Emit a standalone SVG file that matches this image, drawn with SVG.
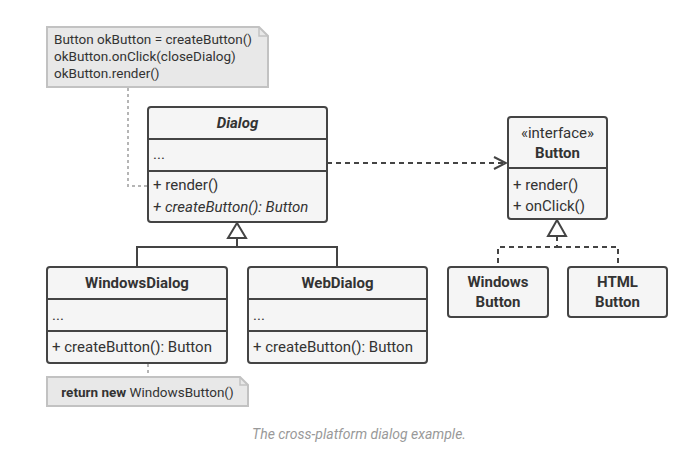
<svg xmlns="http://www.w3.org/2000/svg" width="693" height="474" viewBox="0 0 693 474">
<defs>
<style>
.box{fill:#f5f5f5;stroke:#444;stroke-width:2}
.div{stroke:#444;stroke-width:2;fill:none}
.t{font-family:Roboto,"Liberation Sans",sans-serif;font-size:15px;fill:#333}
.n{font-size:13.5px}
.b{font-weight:bold}
.i{font-style:italic}
.c{text-anchor:middle}
.note{fill:#e8e8e8;stroke:#c2c2c2;stroke-width:2}
.nl{stroke:#b5b5b5;stroke-width:2;stroke-dasharray:3,3;fill:none}
.inh{stroke:#444;stroke-width:2;fill:none}
.dsh{stroke:#444;stroke-width:2;fill:none;stroke-dasharray:5,4}
.tri{fill:#fff;stroke:#444;stroke-width:2}
</style>
<marker id="open" viewBox="0 0 14 14" refX="13" refY="7" markerWidth="14" markerHeight="14" markerUnits="userSpaceOnUse" orient="auto">
<path d="M1,1 L13,7 L1,13" fill="none" stroke="#444" stroke-width="2"/>
</marker>
</defs>
<rect width="693" height="474" fill="#fff"/>
<g id="connectors">
<polyline class="nl" points="128,88 128,186 147,186"/>
<line class="nl" x1="148" y1="364" x2="148" y2="376"/>
<line class="dsh" x1="327" y1="163" x2="506" y2="163" marker-end="url(#open)"/>
<polyline class="inh" points="237,238 237,247 137,247 137,267"/>
<polyline class="inh" points="237,247 337,247 337,267"/>
<polygon class="tri" points="237,223 228,238 246,238"/>
<polyline class="dsh" points="557,236 557,247 498,247 498,266"/>
<polyline class="dsh" points="557,247 618,247 618,266"/>
<polygon class="tri" points="557,220 548,236 566,236"/>
</g>
<g id="note1">
<path class="note" d="M47,27 H259 L268,36 V87 H47 Z"/>
<path d="M259,27 V36 H268" fill="none" stroke="#c2c2c2" stroke-width="1.5"/>
<text class="t n" x="54" y="44">Button okButton = createButton()</text>
<text class="t n" x="54" y="61">okButton.onClick(closeDialog)</text>
<text class="t n" x="54" y="78">okButton.render()</text>
</g>
<g id="dialog">
<rect class="box" x="148" y="107" width="179" height="115" rx="3"/>
<line class="div" x1="148" y1="139" x2="327" y2="139"/>
<line class="div" x1="148" y1="171" x2="327" y2="171"/>
<text class="t b i c" x="237.5" y="128">Dialog</text>
<text class="t" x="153" y="159">...</text>
<text class="t" x="153" y="190">+ render()</text>
<text class="t i" x="153" y="212">+ createButton(): Button</text>
</g>
<g id="button">
<rect class="box" x="508" y="117" width="99" height="102" rx="3"/>
<line class="div" x1="508" y1="168" x2="607" y2="168"/>
<text class="t c" x="557.5" y="138">«interface»</text>
<text class="t b c" x="557.5" y="158">Button</text>
<text class="t" x="513" y="190">+ render()</text>
<text class="t" x="513" y="211">+ onClick()</text>
</g>
<g id="windowsDialog">
<rect class="box" x="47" y="267" width="180" height="96" rx="3"/>
<line class="div" x1="47" y1="299" x2="227" y2="299"/>
<line class="div" x1="47" y1="331" x2="227" y2="331"/>
<text class="t b c" x="137" y="288">WindowsDialog</text>
<text class="t" x="52" y="320">...</text>
<text class="t" x="52" y="352">+ createButton(): Button</text>
</g>
<g id="webDialog">
<rect class="box" x="248" y="267" width="179" height="96" rx="3"/>
<line class="div" x1="248" y1="299" x2="427" y2="299"/>
<line class="div" x1="248" y1="331" x2="427" y2="331"/>
<text class="t b c" x="337.5" y="288">WebDialog</text>
<text class="t" x="253" y="320">...</text>
<text class="t" x="253" y="352">+ createButton(): Button</text>
</g>
<g id="windowsButton">
<rect class="box" x="448" y="267" width="100" height="50" rx="3"/>
<text class="t b c" x="498" y="287">Windows</text>
<text class="t b c" x="498" y="307">Button</text>
</g>
<g id="htmlButton">
<rect class="box" x="568" y="267" width="99" height="50" rx="3"/>
<text class="t b c" x="617.5" y="287">HTML</text>
<text class="t b c" x="617.5" y="307">Button</text>
</g>
<g id="note2">
<path class="note" d="M47,377 H240 L248,385 V406 H47 Z"/>
<path d="M240,377 V385 H248" fill="none" stroke="#c2c2c2" stroke-width="1.5"/>
<text class="t n c" x="147.5" y="397"><tspan class="b">return new</tspan> WindowsButton()</text>
</g>
<text class="t i c" x="359" y="439" style="font-size:14px;fill:#999">The cross-platform dialog example.</text>
</svg>
